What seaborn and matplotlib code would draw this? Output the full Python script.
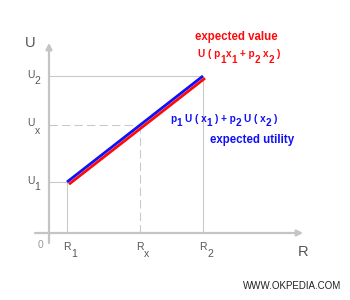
import matplotlib
matplotlib.use("Agg")
import matplotlib.pyplot as plt
from matplotlib import transforms
import seaborn as sns
import pandas as pd

# ---- data (conceptual chart, arbitrary units) ----
R_names = ["1", "x", "2"]          # subscripts of R1, Rx, R2
R_vals = [18, 91, 154]             # R1, Rx, R2
U_names = ["1", "x", "2"]          # subscripts of U1, Ux, U2
U_vals = [51, 108, 157]            # U1, Ux, U2

BLUE = "#1010f5"
RED = "#ff0a0a"
AXIS_GRAY = "#c4c4c4"
REF_GRAY = "#c8c8c8"
TXT_GRAY = "#555555"

sns.set_style("white")
plt.rcParams["font.family"] = ["Liberation Sans", "DejaVu Sans"]

fig = plt.figure(figsize=(3.5, 3.0), dpi=100)
ax = fig.add_axes([0, 0, 1, 1])

# expected value (red) and expected utility (blue) lines
df = pd.DataFrame({"R": [R_vals[0], R_vals[2]], "U": [U_vals[0], U_vals[2]]})
red_tr = transforms.offset_copy(ax.transData, fig=fig, x=2, y=-2.2, units="dots")
sns.lineplot(data=df, x="R", y="U", ax=ax, color=RED, lw=2.0,
             transform=red_tr, solid_capstyle="butt")
sns.lineplot(data=df, x="R", y="U", ax=ax, color=BLUE, lw=2.0,
             solid_capstyle="butt")

# reference lines
for i, (r, u) in enumerate(zip(R_vals, U_vals)):
    ls = (0, (8, 4)) if i == 1 else "-"
    ax.plot([0, r], [u, u], color=REF_GRAY, lw=0.75, ls=ls, zorder=1)
    ax.plot([r, r], [0, u], color=REF_GRAY, lw=0.75, ls=ls, zorder=1)

# axes with arrows
arr = dict(arrowstyle="-|>,head_length=0.35,head_width=0.18", color=AXIS_GRAY,
           lw=1.6, shrinkA=0, shrinkB=0)
ax.annotate("", xy=(0, 190), xytext=(0, -10), arrowprops=arr)
ax.annotate("", xy=(254, 0), xytext=(-14, 0), arrowprops=arr)

ax.set_xlim(-49, 301)
ax.set_ylim(-67, 233)
ax.axis("off")

renderer = fig.canvas.get_renderer()


def text_width(s, **kw):
    t = ax.text(0, 0, "|" + s + "|", **kw)
    w1 = t.get_window_extent(renderer).width
    t.set_text("||")
    w2 = t.get_window_extent(renderer).width
    t.remove()
    return w1 - w2


def rich(x, y, parts, ha="left", sub_dy=5, **kw):
    widths = [text_width(s, **kw) for s, _ in parts]
    total = sum(widths)
    if ha == "center":
        x -= total / 2
    elif ha == "right":
        x -= total
    for (s, sub), w in zip(parts, widths):
        lead = len(s) - len(s.lstrip(" "))
        xd = x + (text_width(" " * lead, **kw) if lead else 0)
        if s.strip():
            ax.text(xd, y - (sub_dy if sub else 0), s.strip(), ha="left",
                    va="baseline", **kw)
        x += w


lab = dict(fontsize=7.5, color=TXT_GRAY)
for name, u in zip(U_names, U_vals):
    rich(-22, u - 1.5, [("U", 0), (name, 1)], sub_dy=7, **lab)
for name, r in zip(R_names, R_vals):
    rich(r - 3.5, -17, [("R", 0), (name, 1)], sub_dy=7, **lab)

ax.text(-18.5, 186, "U", fontsize=10.5, color=TXT_GRAY, ha="center", va="baseline")
ax.text(254, -23, "R", fontsize=10.5, color=TXT_GRAY, ha="center", va="baseline")
ax.text(-8.5, -15, "0", fontsize=7.5, color="#9a9a9a", ha="center", va="baseline")
ax.text(243, -56, "WWW.OKPEDIA.COM", fontsize=7, color="#222222",
        ha="center", va="baseline")

red_kw = dict(fontsize=8.3, color=RED, fontweight="bold")
blue_kw = dict(fontsize=8.3, color=BLUE, fontweight="bold")
ax.text(187.5, 193, "expected value", ha="center", va="baseline", **red_kw)
rich(190, 176, [("U ( p", 0), ("1", 1), ("x", 0), ("1", 1), (" + p", 0),
                ("2", 1), (" x", 0), ("2", 1), (" )", 0)],
     ha="center", sub_dy=6, fontsize=7.2, color=RED, fontweight="bold")
rich(175, 111, [("p", 0), ("1", 1), (" U ( x", 0), ("1", 1), (" ) + p", 0),
                ("2", 1), (" U ( x", 0), ("2", 1), (" )", 0)],
     ha="center", sub_dy=4, fontsize=7.2, color=BLUE, fontweight="bold")
ax.text(203.5, 90, "expected utility", ha="center", va="baseline", **blue_kw)

fig.savefig("out.png", dpi=100)
